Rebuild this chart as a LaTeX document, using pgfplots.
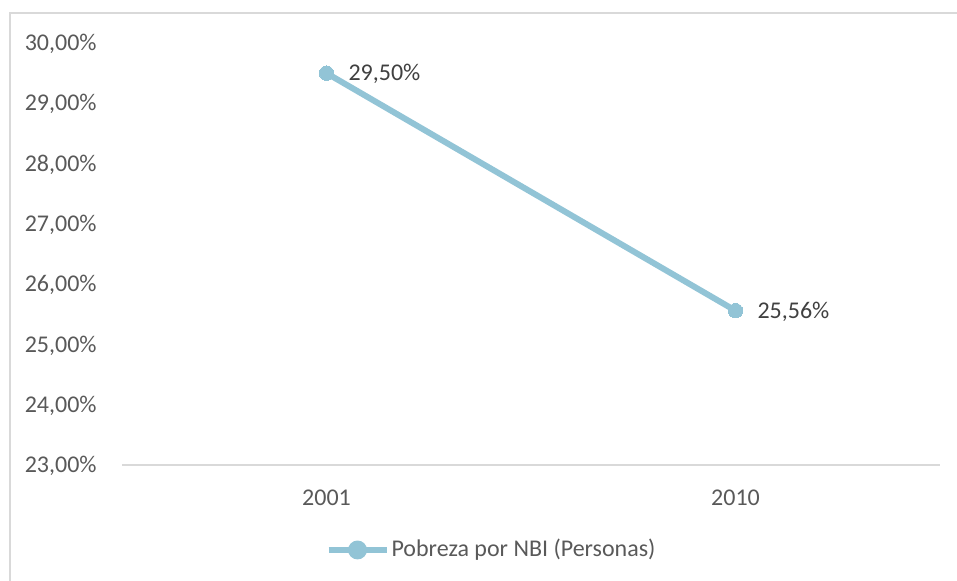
\documentclass[border=0pt]{standalone}
\usepackage{pgfplots}
\pgfplotsset{compat=1.18}
\usepackage{fontspec}
\setmainfont{Carlito}
\definecolor{serie}{HTML}{92C4D6}
\definecolor{txt}{HTML}{595959}
\definecolor{lbl}{HTML}{404040}
\definecolor{frame}{HTML}{D9D9D9}
\begin{document}
\fontsize{12pt}{14pt}\selectfont
\begin{tikzpicture}
\useasboundingbox (0,0) rectangle (478.5pt,290.5pt);
\draw[frame, line width=1pt] (5pt,-2pt) rectangle (481pt,284pt);
\begin{axis}[
  at={(61pt,58pt)}, anchor=south west,
  scale only axis, width=409pt, height=211pt,
  clip=false,
  xmin=-0.5, xmax=1.5, ymin=23, ymax=30,
  xtick={0,1}, xticklabels={2001,2010},
  ytick={23,24,25,26,27,28,29,30},
  yticklabel={\pgfmathprintnumber[fixed,zerofill,precision=2,use comma,assume math mode=true]{\tick}\%},
  axis x line*=bottom, axis y line*=left,
  x axis line style={draw=frame, line width=1pt},
  y axis line style={draw=none},
  major tick length=0pt,
  tick style={draw=none},
  xticklabel style={font=\fontsize{12pt}{14pt}\selectfont, text=txt, anchor=base, inner sep=0pt, yshift=-20.25pt},
  yticklabel style={font=\fontsize{12pt}{14pt}\selectfont, text=txt, anchor=base east, inner sep=0pt, xshift=-12.5pt, yshift=-3.8pt},
  legend style={at={(rel axis cs:0.4517,-0.2014)}, anchor=center, draw=none, fill=none,
    font=\fontsize{12pt}{14pt}\selectfont, text=txt, inner sep=0pt,
    nodes={inner sep=1pt}},
  legend image code/.code={
    \draw[serie, line width=3pt] (0pt,0pt) -- (29pt,0pt);
    \fill[serie] (14.5pt,0pt) circle (3.2pt);
  },
  nodes near coords={\pgfmathprintnumber[fixed,zerofill,precision=2,use comma,assume math mode=true]{\pgfplotspointmeta}\%},
  nodes near coords style={font=\fontsize{12pt}{14pt}\selectfont, text=lbl, anchor=base west, inner sep=0pt, xshift=11pt, yshift=-3.8pt},
]
\addplot[serie, line width=3pt, mark=*, mark size=3.6pt, mark options={fill=serie, draw=serie, line width=0pt}]
  coordinates {(0,29.50) (1,25.56)};
\addlegendentry{Pobreza por NBI (Personas)}
\end{axis}
\end{tikzpicture}
\end{document}
